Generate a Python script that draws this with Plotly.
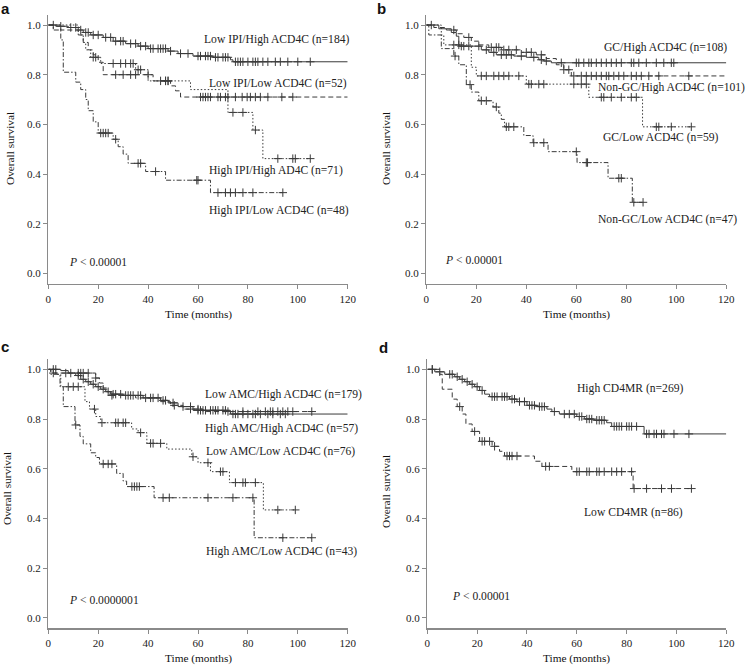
import plotly.graph_objects as go

# ---------------- DATA ----------------
# Panel a
a1_t = [3, 8, 12, 14, 17, 22, 26, 31, 36, 40, 48, 52, 58, 66, 73, 74]
a1_s = [0.995, 0.99, 0.98, 0.97, 0.96, 0.95, 0.935, 0.925, 0.915, 0.905, 0.895, 0.885, 0.875, 0.87, 0.86, 0.852]
a1_end = 120
a1_c = [2, 5, 9, 11, 13, 15, 16, 18, 20, 23, 25, 27, 29, 30, 33, 35, 37, 39, 41, 42, 44, 45, 46, 47, 49, 53, 56,
        60, 61, 63, 64, 65, 67, 68, 70, 71, 72, 75, 76, 77, 78, 80, 82, 83, 84, 86, 88, 91, 93, 96, 100, 105]
a2_t = [5, 12, 14, 16, 18, 20, 22, 42, 49, 51, 53]
a2_s = [0.98, 0.96, 0.93, 0.90, 0.88, 0.85, 0.80, 0.775, 0.755, 0.735, 0.71]
a2_end = 120
a2_c = [27, 30, 33, 35, 40, 45, 47, 48, 61, 62, 63, 64, 65, 68, 69, 71, 72, 75, 77.7, 79.7, 81, 83, 85, 88, 93.6, 98]
a3_t = [12, 14, 15, 17, 21, 35, 40, 57, 72, 82, 86]
a3_s = [0.96, 0.93, 0.90, 0.87, 0.845, 0.82, 0.775, 0.74, 0.648, 0.577, 0.462]
a3_end = 105
a3_c = [18, 19, 26, 29, 31, 33, 34, 36, 37, 47, 48, 74, 78, 83, 92, 98, 99, 105]
a4_t = [2, 5, 6, 11, 13, 15, 16, 18, 20, 26, 28, 30, 32, 39, 47, 65]
a4_s = [0.98, 0.94, 0.81, 0.77, 0.74, 0.70, 0.655, 0.61, 0.565, 0.54, 0.51, 0.48, 0.443, 0.41, 0.375, 0.325]
a4_end = 94
a4_c = [21, 22, 23, 24, 27, 36, 37, 43, 59.5, 60, 68, 71, 73, 75, 78, 82, 94]

# Panel b
b1_t = [5, 10, 12, 13, 22, 25, 28, 35, 40, 45, 47, 50]
b1_s = [0.985, 0.97, 0.955, 0.915, 0.90, 0.89, 0.88, 0.875, 0.87, 0.86, 0.855, 0.848]
b1_end = 120
b1_c = [2, 14, 15, 17, 21, 24, 27, 30, 32, 34, 38, 43, 46, 48, 54, 60, 61, 63, 65, 66, 68, 70, 72, 74, 76, 78,
        82, 83, 85, 88, 92, 95, 98, 99]
b2_t = [3, 8, 12, 15, 18, 21, 25, 30, 38, 44, 48, 52, 55, 58]
b2_s = [0.99, 0.98, 0.965, 0.95, 0.935, 0.92, 0.91, 0.90, 0.89, 0.88, 0.865, 0.84, 0.82, 0.795]
b2_end = 120
b2_c = [11, 17, 26, 28, 29, 31, 33, 36, 40, 42, 46, 55, 57, 59, 62, 64, 66, 68, 70, 72, 73, 75, 77, 79, 82, 84,
        86, 89, 93, 105]
b3_t = [6, 7, 18, 20, 40, 65, 86.5]
b3_s = [0.96, 0.92, 0.83, 0.795, 0.762, 0.709, 0.59]
b3_end = 106
b3_c = [11, 13, 22, 24, 27, 29, 31, 33, 37, 41, 42, 45, 47, 59, 62, 64, 70, 71, 74, 78, 82, 84, 92, 93, 98, 106]
b4_t = [1, 6, 11, 13, 16, 18, 21, 26.7, 29, 30, 31.3, 39, 42.7, 48.7, 60.3, 72.7, 82.4]
b4_s = [0.96, 0.905, 0.875, 0.84, 0.76, 0.73, 0.695, 0.67, 0.645, 0.62, 0.59, 0.555, 0.526, 0.49, 0.446, 0.383, 0.286]
b4_end = 86.7
b4_c = [11.5, 17.5, 22, 24, 28, 32, 33, 35, 43, 47, 60, 64, 64.5, 77, 78, 83, 86.7]

# Panel c
c1_t = [5, 8, 11, 13, 15, 17, 19, 21, 23, 25, 30, 38, 45, 48, 52, 58, 73]
c1_s = [0.995, 0.985, 0.975, 0.96, 0.95, 0.94, 0.93, 0.92, 0.91, 0.90, 0.895, 0.885, 0.875, 0.865, 0.85, 0.835, 0.82]
c1_end = 120
c1_c = [2, 3, 9, 12, 14, 16, 18, 20, 22, 24, 26, 27, 29, 31, 32, 33, 34, 36, 37, 39, 41, 42, 44, 46, 47, 50, 54,
        57, 60, 61, 62, 63, 65, 66, 67, 68, 70, 71, 74, 75, 76, 78, 80, 82, 83, 85, 88, 90, 93, 95]
c2_t = [1, 19, 20.5, 22, 23.5, 25, 35, 45, 49, 54, 62]
c2_s = [0.985, 0.965, 0.945, 0.925, 0.91, 0.895, 0.885, 0.87, 0.855, 0.84, 0.83]
c2_end = 106
c2_c = [2, 7, 12, 13, 14, 16, 19, 25.5, 50.5, 57, 60, 72, 78, 84, 87, 89, 90, 92, 94, 96, 98, 105.6]
c3_t = [3, 5, 14.7, 16.5, 19, 21, 33.4, 36, 39.5, 47.5, 57.5, 60, 65, 72.6, 86.2]
c3_s = [0.98, 0.93, 0.87, 0.84, 0.81, 0.785, 0.76, 0.745, 0.702, 0.679, 0.648, 0.624, 0.588, 0.544, 0.434]
c3_end = 99
c3_c = [8, 10, 12, 18.5, 21.5, 27, 28, 30, 31, 37, 41, 42, 45, 58, 64, 69, 70, 75, 78, 79, 83, 92, 99]
c4_t = [1, 4.7, 6, 10.7, 12.7, 14, 17, 19, 20.5, 27.4, 30, 31.4, 42.4, 82.5]
c4_s = [0.98, 0.93, 0.85, 0.776, 0.73, 0.70, 0.664, 0.645, 0.619, 0.581, 0.55, 0.528, 0.483, 0.322]
c4_end = 105.6
c4_c = [11, 22, 24, 25.5, 33.5, 34.5, 35.5, 36.5, 46, 48.5, 64, 74, 82, 94, 105.6]

# Panel d
d1_t = [3, 7, 11, 13, 15, 17, 19, 21, 23, 25, 33, 36, 40, 44, 48, 50, 53, 60, 63, 67, 72, 74, 87]
d1_s = [0.99, 0.98, 0.97, 0.96, 0.95, 0.94, 0.93, 0.915, 0.90, 0.89, 0.88, 0.87, 0.855, 0.85, 0.84, 0.83, 0.82,
        0.81, 0.80, 0.795, 0.785, 0.77, 0.74]
d1_end = 120
d1_c = [2, 5, 9, 10, 12, 14, 16, 18, 20, 22, 26, 27, 28, 30, 31, 32, 34, 35, 37, 39, 41, 42, 43, 45, 46, 47, 51,
        55, 57, 59, 61, 62, 64, 65, 66, 68, 69, 70, 71, 75, 76, 77, 78, 80, 81, 82, 84, 88, 89, 91, 92, 94, 95, 99, 105]
d2_t = [5, 6, 10, 12, 14, 15.5, 18, 21, 26, 29, 31, 43, 46, 58, 82.6]
d2_s = [0.98, 0.92, 0.88, 0.85, 0.82, 0.78, 0.75, 0.71, 0.69, 0.67, 0.651, 0.63, 0.609, 0.588, 0.52]
d2_end = 106
d2_c = [2, 13, 19, 22, 23, 25, 27, 32, 33, 34, 36, 47.5, 49, 60, 61, 64, 65, 68, 69, 71, 74, 76, 78, 82, 83, 88,
        94, 98, 106]

# labels
a_labels = ["Low IPI/High ACD4C (n=184)", "Low IPI/Low ACD4C (n=52)", "High IPI/High AD4C (n=71)", "High IPI/Low ACD4C (n=48)"]
b_labels = ["GC/High ACD4C (n=108)", "Non-GC/High ACD4C (n=101)", "GC/Low ACD4C (n=59)", "Non-GC/Low ACD4C (n=47)"]
c_labels = ["Low AMC/High ACD4C (n=179)", "High AMC/High ACD4C (n=57)", "Low AMC/Low ACD4C (n=76)", "High AMC/Low ACD4C (n=43)"]
d_labels = ["High CD4MR (n=269)", "Low CD4MR (n=86)"]
p_texts = ["<i>P</i> < 0.00001", "<i>P</i> < 0.00001", "<i>P</i> < 0.0000001", "<i>P</i> < 0.00001"]
x_ticks = [0, 20, 40, 60, 80, 100, 120]
y_ticks = [0.0, 0.2, 0.4, 0.6, 0.8, 1.0]

# ---------------- FIGURE ----------------
W, H = 747, 670
LINE = "#3a3a3a"
AX = "#8a8a8a"
FONT = "Liberation Serif, Times New Roman, serif"
DASH = {"solid": "solid", "dash": "5px,3px", "dot": "1.5px,2px", "dashdot": "5px,2px,1.5px,2px"}
LABEL_SIZE = 11.6
TICK_SIZE = 11

fig = go.Figure()


def surv_at(times, survs, t):
    s = 1.0
    for ti, si in zip(times, survs):
        if ti <= t:
            s = si
    return s


def add_curve(times, survs, end, cens, dash, k, name):
    xs = [0] + list(times) + [end]
    ys = [1.0] + list(survs) + [survs[-1]]
    fig.add_trace(go.Scatter(x=xs, y=ys, mode="lines", line=dict(shape="hv", color=LINE, width=1, dash=DASH[dash]),
                             xaxis=f"x{k}", yaxis=f"y{k}", name=name, showlegend=False, hoverinfo="skip"))
    cy = [surv_at(times, survs, c) for c in cens]
    fig.add_trace(go.Scatter(x=cens, y=cy, mode="markers",
                             marker=dict(symbol="cross-thin", size=6, line=dict(color=LINE, width=1)),
                             xaxis=f"x{k}", yaxis=f"y{k}", showlegend=False, hoverinfo="skip"))


curves = [
    (1, a1_t, a1_s, a1_end, a1_c, "solid", a_labels[0]),
    (1, a2_t, a2_s, a2_end, a2_c, "dash", a_labels[1]),
    (1, a3_t, a3_s, a3_end, a3_c, "dot", a_labels[2]),
    (1, a4_t, a4_s, a4_end, a4_c, "dashdot", a_labels[3]),
    (2, b1_t, b1_s, b1_end, b1_c, "solid", b_labels[0]),
    (2, b2_t, b2_s, b2_end, b2_c, "dash", b_labels[1]),
    (2, b3_t, b3_s, b3_end, b3_c, "dot", b_labels[2]),
    (2, b4_t, b4_s, b4_end, b4_c, "dashdot", b_labels[3]),
    (3, c1_t, c1_s, c1_end, c1_c, "solid", c_labels[0]),
    (3, c2_t, c2_s, c2_end, c2_c, "dash", c_labels[1]),
    (3, c3_t, c3_s, c3_end, c3_c, "dot", c_labels[2]),
    (3, c4_t, c4_s, c4_end, c4_c, "dashdot", c_labels[3]),
    (4, d1_t, d1_s, d1_end, d1_c, "solid", d_labels[0]),
    (4, d2_t, d2_s, d2_end, d2_c, "dash", d_labels[1]),
]
for k, t, s, e, c, d, n in curves:
    add_curve(t, s, e, c, d, k, n)

# panel pixel boxes: (left, right, top, bottom) in px
boxes = {1: (48.3, 347.7, 15.1, 284.0), 2: (426.3, 726.3, 15.1, 284.0),
         3: (48.3, 347.7, 359.4, 628.4), 4: (427.3, 726.3, 359.4, 628.4)}

layout = dict(width=W, height=H, margin=dict(l=0, r=0, t=0, b=0), paper_bgcolor="white", plot_bgcolor="white",
              font=dict(family=FONT, color="#222", size=TICK_SIZE))
for k, (l, r, t, b) in boxes.items():
    sx = "" if k == 1 else str(k)
    layout[f"xaxis{sx}"] = dict(domain=[l / W, r / W], range=[0, 120], anchor=f"y{k if k > 1 else ''}",
                                tickvals=x_ticks, ticks="outside", ticklen=4, tickcolor=AX, showline=True,
                                linecolor=AX, linewidth=1.3, showgrid=False, zeroline=False,
                                tickfont=dict(family=FONT, size=TICK_SIZE, color="#222"), automargin=False,
                                fixedrange=True)
    layout[f"yaxis{sx}"] = dict(domain=[1 - b / H, 1 - t / H], range=[-0.043, 1.04], anchor=f"x{k if k > 1 else ''}",
                                tickvals=y_ticks, tickformat=".1f", ticks="outside", ticklen=4, tickcolor=AX,
                                showline=True, linecolor=AX, linewidth=1.3, showgrid=False, zeroline=False,
                                tickfont=dict(family=FONT, size=TICK_SIZE, color="#222"), automargin=False,
                                fixedrange=True)
fig.update_layout(**layout)

ann = []


def data_text(k, x, y, text, anchor="left"):
    ann.append(dict(xref=f"x{k}", yref=f"y{k}", x=x, y=y, text=text, showarrow=False, xanchor=anchor,
                    yanchor="middle", font=dict(family=FONT, size=LABEL_SIZE, color="#222")))


for (x, y), lab in zip([(61.5, 0.94), (63.5, 0.765), (63.8, 0.413), (63.8, 0.252)], a_labels):
    data_text(1, x, y, lab)
for (x, y), lab in zip([(70.4, 0.91), (68.0, 0.749), (70.0, 0.548), (67.7, 0.217)], b_labels):
    data_text(2, x, y, lab)
for (x, y), lab in zip([(62.2, 0.897), (62.2, 0.76), (62.4, 0.668), (62.4, 0.266)], c_labels):
    data_text(3, x, y, lab)
for (x, y), lab in zip([(59.4, 0.923), (62.2, 0.423)], d_labels):
    data_text(4, x, y, lab)
for k, (x, y) in zip([1, 2, 3, 4], [(7.4, 0.045), (6.7, 0.051), (7.4, 0.071), (9.0, 0.084)]):
    data_text(k, x, y, p_texts[k - 1])


def px_text(px, py, text, size=11.3, angle=0, family=FONT, bold=False):
    t = f"<b>{text}</b>" if bold else text
    ann.append(dict(xref="paper", yref="paper", x=px / W, y=1 - py / H, text=t, showarrow=False, xanchor="center",
                    yanchor="middle", textangle=angle, font=dict(family=family, size=size, color="#111")))


for k, (l, r, t, b) in boxes.items():
    px_text((l + r) / 2, b + 30, "Time (months)")
for (px, py) in [(10, 149), (386, 149), (7, 489), (386, 492)]:
    px_text(px, py, "Overall survival", angle=-90)
for (px, py), letter in zip([(5, 9), (381, 8), (5, 346), (383, 347)], ["a", "b", "c", "d"]):
    px_text(px, py, letter, size=15, family="Liberation Sans, Arial, sans-serif", bold=True)

fig.update_layout(annotations=ann)
fig.write_html("out.html", config={"displayModeBar": False, "staticPlot": True},
               post_script="document.body.style.margin='0';document.body.style.overflow='hidden';")
